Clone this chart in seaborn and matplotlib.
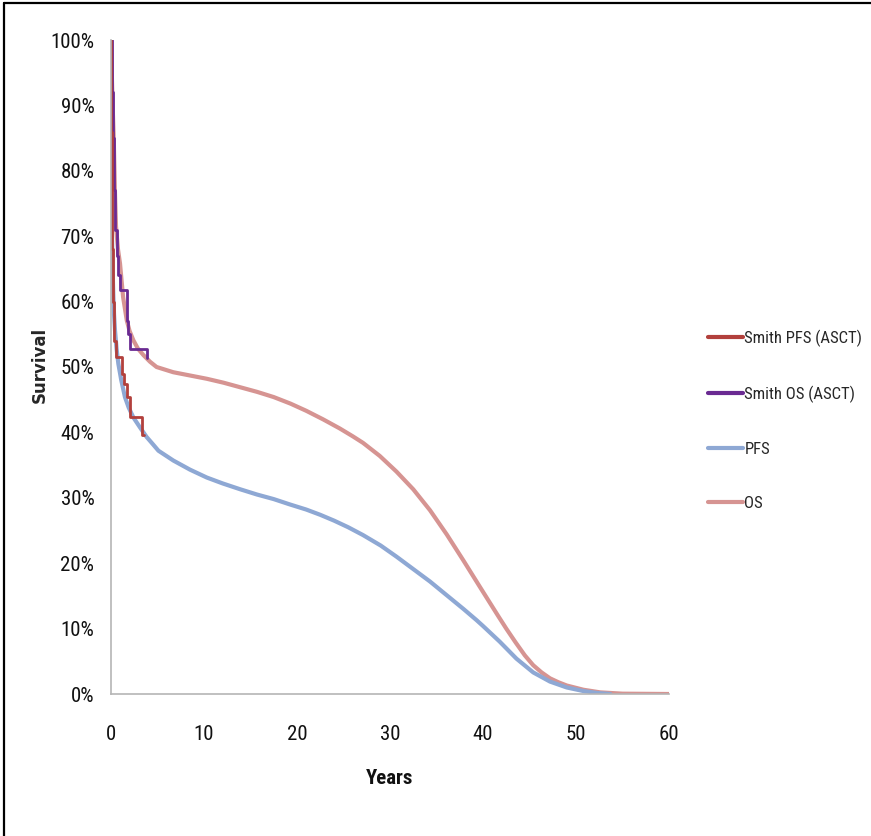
import matplotlib
matplotlib.use("Agg")
import matplotlib.pyplot as plt
from matplotlib import font_manager
from matplotlib.lines import Line2D
from matplotlib.ticker import PercentFormatter
import seaborn as sns

# Smith et al. Kaplan-Meier steps (years, survival fraction)
smith_pfs_t = [0, 0.05, 0.08, 0.12, 0.2, 0.35, 0.55, 1.15, 1.45, 1.75, 2.0, 3.35, 3.6]
smith_pfs_s = [1.00, 0.86, 0.76, 0.68, 0.60, 0.54, 0.515, 0.49, 0.474, 0.454, 0.423, 0.396, 0.396]

smith_os_t = [0, 0.08, 0.2, 0.35, 0.45, 0.6, 0.8, 0.97, 1.68, 1.85, 2.04, 3.83, 3.9]
smith_os_s = [1.00, 0.92, 0.85, 0.77, 0.71, 0.67, 0.64, 0.618, 0.571, 0.55, 0.528, 0.513, 0.513]

# Modelled progression-free survival
pfs_t = [0, 0.03, 0.06, 0.1, 0.17, 0.25, 0.33, 0.43, 0.6, 0.79, 1.1, 1.5, 1.9, 2.4, 3.1,
         3.83, 4.5, 5.1, 6.7, 8.5, 10.3, 12.0, 13.9, 15.7, 17.5, 19.2, 21.0, 22.5, 24.0,
         25.5, 27.1, 29.0, 30.7, 32.5, 34.3, 36.1, 37.9, 39.3, 40.0, 41.8, 43.6, 45.4,
         47.2, 49.0, 50.8, 52.3, 53.7]
pfs_s = [1.00, 0.88, 0.78, 0.71, 0.65, 0.61, 0.58, 0.556, 0.528, 0.505, 0.48, 0.454,
         0.438, 0.423, 0.408, 0.393, 0.382, 0.372, 0.357, 0.343, 0.331, 0.322, 0.313,
         0.305, 0.298, 0.290, 0.282, 0.274, 0.265, 0.255, 0.243, 0.227, 0.210, 0.191,
         0.172, 0.151, 0.130, 0.113, 0.104, 0.080, 0.054, 0.033, 0.019, 0.010, 0.0045,
         0.0015, 0.0]

# Modelled overall survival
os_t = [0, 0.1, 0.2, 0.3, 0.42, 0.54, 0.75, 0.97, 1.3, 1.7, 2.0, 2.4, 2.9, 3.5, 4.2,
        4.9, 5.8, 6.7, 8.5, 10.3, 12.1, 13.9, 15.7, 17.5, 19.3, 21.0, 22.8, 24.6, 26.0,
        27.1, 28.9, 30.7, 32.5, 34.3, 36.1, 37.9, 39.7, 41.6, 42.5, 43.5, 44.5, 45.4,
        46.3, 47.2, 48.1, 49.0, 50.8, 52.6, 55.0, 60.0]
os_s = [1.00, 0.94, 0.89, 0.847, 0.77, 0.715, 0.68, 0.658, 0.607, 0.571, 0.555, 0.541,
        0.528, 0.518, 0.508, 0.500, 0.496, 0.492, 0.487, 0.482, 0.476, 0.469, 0.462,
        0.454, 0.444, 0.433, 0.420, 0.406, 0.394, 0.384, 0.364, 0.340, 0.313, 0.281,
        0.244, 0.204, 0.163, 0.120, 0.100, 0.079, 0.059, 0.044, 0.033, 0.024, 0.018,
        0.013, 0.0065, 0.0025, 0.0005, 0.0]

labels = ["Smith PFS (ASCT)", "Smith OS (ASCT)", "PFS", "OS"]
colors = ["#b2403c", "#6a2a92", "#8ea8d4", "#d69492"]
x_ticks = [0, 10, 20, 30, 40, 50, 60]

sns.set_theme(style="white")
available = {f.name for f in font_manager.fontManager.ttflist}
narrow = None
for cand in ["Liberation Sans Narrow", "Roboto Condensed", "Open Sans Condensed"]:
    if cand in available:
        narrow = cand
        break
if narrow is None:
    narrow = "DejaVu Sans"
    plt.rcParams["font.stretch"] = "condensed"
plt.rcParams["font.family"] = [narrow, "DejaVu Sans"]

fig = plt.figure(figsize=(8.71, 8.36), dpi=100)
ax = fig.add_axes([111 / 871, 1 - 694 / 836, (669 - 111) / 871, (694 - 40) / 836])

sns.lineplot(x=os_t, y=os_s, ax=ax, color=colors[3], linewidth=3.0)
sns.lineplot(x=pfs_t, y=pfs_s, ax=ax, color=colors[2], linewidth=3.0)
sns.lineplot(x=smith_os_t, y=smith_os_s, ax=ax, color=colors[1], linewidth=2.0,
             drawstyle="steps-post")
sns.lineplot(x=smith_pfs_t, y=smith_pfs_s, ax=ax, color=colors[0], linewidth=2.0,
             drawstyle="steps-post")

ax.set_xlim(0, 60)
ax.set_ylim(0, 1.0)
ax.set_xticks(x_ticks)
ax.set_yticks([i / 10 for i in range(11)])
ax.yaxis.set_major_formatter(PercentFormatter(1.0, decimals=0))
ax.tick_params(axis="both", length=0, labelsize=15, colors="#111111")
ax.tick_params(axis="x", pad=22)
ax.tick_params(axis="y", pad=12)
for side in ["top", "right"]:
    ax.spines[side].set_visible(False)
for side in ["left", "bottom"]:
    ax.spines[side].set_color("#b5b5b5")
    ax.spines[side].set_linewidth(1.2)

ax.set_xlabel("Years", fontsize=15, fontweight="bold", labelpad=18, color="#111111")
ax.set_ylabel("")
fig.text(40 / 871, 1 - 365 / 836, "Survival", rotation=90, ha="center", va="center",
         fontsize=12, fontweight="bold", family="DejaVu Sans", fontstretch="normal")

handles = [Line2D([0], [0], color=c, linewidth=3.0) for c in colors]
fig.legend(handles, labels, loc="upper left", bbox_to_anchor=(701 / 871, 1 - 323 / 836),
           frameon=False, fontsize=12, handlelength=2.1, handletextpad=0.1,
           labelspacing=2.33, borderaxespad=0)

# Frame around the figure (top and left edges)
fig.add_artist(Line2D([4 / 871, 4 / 871], [0, 1 - 3 / 836], transform=fig.transFigure,
                      color="black", linewidth=1.6))
fig.add_artist(Line2D([4 / 871, 1], [1 - 3 / 836, 1 - 3 / 836], transform=fig.transFigure,
                      color="black", linewidth=1.6))

fig.savefig("out.png", dpi=100)
